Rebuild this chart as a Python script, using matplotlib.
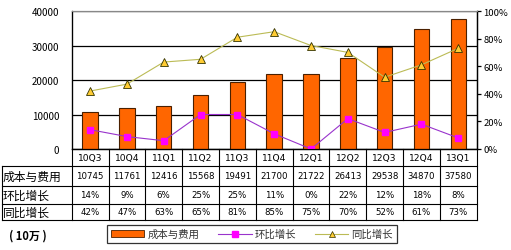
import matplotlib
matplotlib.use("Agg")
import matplotlib.pyplot as plt
import numpy as np
from matplotlib.patches import Rectangle
from matplotlib.lines import Line2D

plt.rcParams['font.family'] = ['Noto Sans CJK SC', 'DejaVu Sans']

quarters = ["10Q3", "10Q4", "11Q1", "11Q2", "11Q3", "11Q4",
            "12Q1", "12Q2", "12Q3", "12Q4", "13Q1"]
cost = [10745, 11761, 12416, 15568, 19491, 21700,
        21722, 26413, 29538, 34870, 37580]
qoq = [14, 9, 6, 25, 25, 11, 0, 22, 12, 18, 8]
yoy = [42, 47, 63, 65, 81, 85, 75, 70, 52, 61, 73]
row_names = ["成本与费用", "环比增长", "同比增长"]
unit_label = "( 10万 )"

W, H = 511, 251
fig = plt.figure(figsize=(W / 100, H / 100), dpi=100)

# plot area in pixels
left, right, top, bottom = 71.7, 476.7, 12, 150
ax = fig.add_axes([left / W, 1 - bottom / H, (right - left) / W, (bottom - top) / H])
x = np.arange(len(quarters))
ax.bar(x, cost, width=0.42, color="#FF6600", edgecolor="#4a2000", linewidth=0.8, zorder=3)
ax.set_xlim(-0.5, len(quarters) - 0.5)
ax.set_ylim(0, 40000)
ax.set_yticks([0, 10000, 20000, 30000, 40000])
ax.tick_params(axis="y", labelsize=7, length=0, pad=9)
ax.set_xticks([])
ax.grid(axis="y", color="black", linewidth=0.9, zorder=0)
for s in ["left", "right", "bottom"]:
    ax.spines[s].set_color("black")
    ax.spines[s].set_linewidth(0.9)
ax.spines["top"].set_color("#888888")

ax2 = ax.twinx()
ax2.plot(x, qoq, color="#9933CC", linewidth=0.8, marker="s", markersize=5,
         markerfacecolor="#FF00FF", markeredgecolor="#FF00FF", zorder=4)
ax2.plot(x, yoy, color="#BBBB55", linewidth=0.8, marker="^", markersize=6,
         markerfacecolor="#FFCC33", markeredgecolor="#333300", markeredgewidth=0.6, zorder=4)
ax2.set_ylim(0, 100)
ax2.set_yticks([0, 20, 40, 60, 80, 100])
ax2.set_yticklabels([f"{v}%" for v in [0, 20, 40, 60, 80, 100]])
ax2.tick_params(axis="y", labelsize=6.8, length=3, width=0.9, pad=2)
ax2.spines["right"].set_linewidth(0.9)
ax2.spines["top"].set_color("#888888")

# data table drawn in pixel coordinates
tab = fig.add_axes([0, 0, 1, 1], zorder=5)
tab.set_xlim(0, W)
tab.set_ylim(H, 0)
tab.axis("off")
cw = (right - left) / len(quarters)
rows_y = [150, 167, 187, 205, 221]
lw = 0.8
tab.plot([left, right], [rows_y[0], rows_y[0]], color="black", lw=lw)
for yy in rows_y[1:]:
    tab.plot([1.5, right], [yy, yy], color="black", lw=lw)
for i in range(len(quarters) + 1):
    xx = left + i * cw
    tab.plot([xx, xx], [rows_y[0], rows_y[-1]], color="black", lw=lw)
tab.plot([1.5, 1.5], [rows_y[1], rows_y[-1]], color="black", lw=lw)

for i, q in enumerate(quarters):
    cx = left + (i + 0.5) * cw
    tab.text(cx, (rows_y[0] + rows_y[1]) / 2, q, ha="center", va="center",
             fontsize=6.6, family="DejaVu Sans")
    tab.text(cx, (rows_y[1] + rows_y[2]) / 2, str(cost[i]), ha="center", va="center",
             fontsize=6.2, family="DejaVu Sans")
    tab.text(cx, (rows_y[2] + rows_y[3]) / 2, f"{qoq[i]}%", ha="center", va="center",
             fontsize=6.2, family="DejaVu Sans")
    tab.text(cx, (rows_y[3] + rows_y[4]) / 2, f"{yoy[i]}%", ha="center", va="center",
             fontsize=6.2, family="DejaVu Sans")
for j, name in enumerate(row_names):
    tab.text(3, (rows_y[j + 1] + rows_y[j + 2]) / 2, name, ha="left", va="center", fontsize=8.5)

tab.text(9, 236, unit_label, ha="left", va="center", fontsize=8, fontweight="bold")

handles = [
    Rectangle((0, 0), 1, 1, facecolor="#FF6600", edgecolor="#4a2000", linewidth=0.6),
    Line2D([], [], color="#9933CC", lw=0.8, marker="s", markersize=4,
           markerfacecolor="#FF00FF", markeredgecolor="#FF00FF"),
    Line2D([], [], color="#BBBB55", lw=0.8, marker="^", markersize=5,
           markerfacecolor="#FFCC33", markeredgecolor="#333300", markeredgewidth=0.5),
]
leg = fig.legend(handles, row_names, ncol=3,
                 loc="center", bbox_to_anchor=(252 / W, 1 - 235 / H),
                 fontsize=7.5, frameon=True, fancybox=False, edgecolor="black",
                 handlelength=3.2, handletextpad=0.3, columnspacing=1.8,
                 borderpad=0.35)
leg.get_frame().set_linewidth(0.9)
for t in leg.get_texts():
    t.set_color("#333333")

fig.savefig("out.png", dpi=100)
